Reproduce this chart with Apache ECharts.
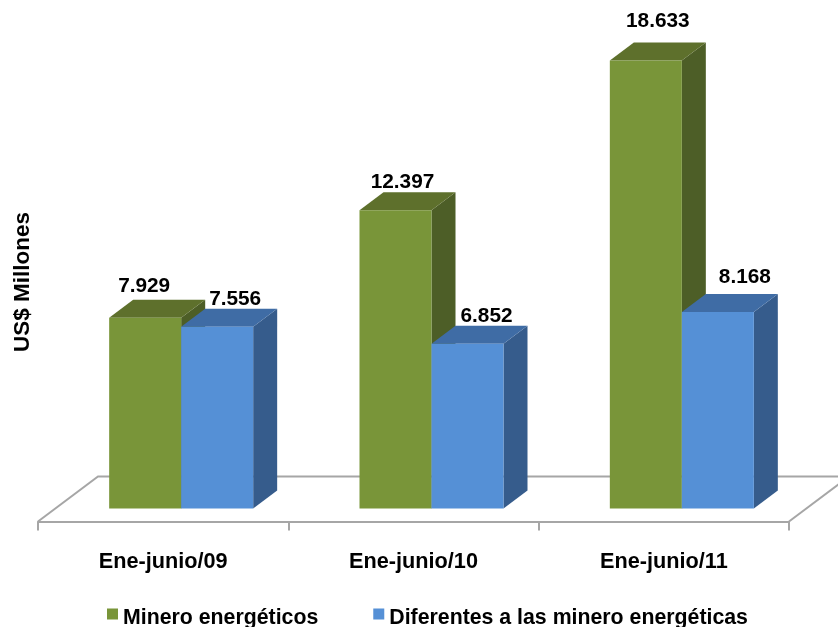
<!DOCTYPE html>
<html><head><meta charset="utf-8">
<style>html,body{margin:0;padding:0;background:#fff}#c{width:838px;height:627px}</style>
<script src="https://cdn.jsdelivr.net/npm/echarts@6/dist/echarts.min.js"></script>
</head><body><div id="c"></div>
<script>
const categories = ['Ene-junio/09', 'Ene-junio/10', 'Ene-junio/11'];
const mineroEnergeticos = [7929, 12397, 18633];
const diferentes = [7556, 6852, 8168];
const seriesNames = ['Minero energéticos', 'Diferentes a las minero energéticas'];
const yTitle = 'US$ Millones';

// drawing constants (not data)
const FONT = '"Liberation Sans", Arial, sans-serif';
const BAR_W = 72, DX = 24, DY = 18, SHIFT = 18;
const greenStyle = { front: '#799539', top: '#5e702c', side: '#4d5e27' };
const blueStyle = { front: '#5590d6', top: '#3f6ca5', side: '#365c8c' };
const greenNudge = [[-1, -32], [7, -28], [12, -39]];
const blueNudge = [[18, -28], [19, -27], [27, -35]];
const fmt = v => String(v).replace(/\B(?=(\d{3})+$)/, '.');

function barRenderer(side, colors, nudge) {
  return function (params, api) {
    const i = api.value(0), v = api.value(1);
    const top = api.coord([i, v]), base = api.coord([i, 0]);
    const x0 = top[0] + SHIFT + (side === 0 ? -BAR_W : 0), x1 = x0 + BAR_W;
    const y0 = top[1], y1 = base[1];
    return {
      type: 'group',
      children: [
        { type: 'polygon', shape: { points: [[x1, y0], [x1 + DX, y0 - DY], [x1 + DX, y1 - DY], [x1, y1]] }, style: { fill: colors.side } },
        { type: 'polygon', shape: { points: [[x0, y0], [x0 + DX, y0 - DY], [x1 + DX, y0 - DY], [x1, y0]] }, style: { fill: colors.top } },
        { type: 'rect', shape: { x: x0, y: y0, width: BAR_W, height: y1 - y0 }, style: { fill: colors.front } },
        { type: 'text', x: (x0 + x1) / 2 + nudge[params.dataIndex][0], y: y0 + nudge[params.dataIndex][1],
          style: { text: fmt(v), font: 'bold 20.8px ' + FONT, fill: '#000', align: 'center', verticalAlign: 'middle' } }
      ]
    };
  };
}

function floorRenderer(params) {
  const g = params.coordSys;
  const fy = g.y + g.height + 13, by = fy - 45;
  const line = '#a6a6a6';
  return {
    type: 'group',
    children: [
      { type: 'polyline', shape: { points: [[g.x, fy], [g.x + 60, by], [838, by]] }, style: { stroke: line, lineWidth: 2, fill: 'none' } },
      { type: 'line', shape: { x1: g.x + g.width, y1: fy, x2: g.x + g.width + 60, y2: by }, style: { stroke: line, lineWidth: 2 } }
    ]
  };
}

const chart = echarts.init(document.getElementById('c'), null, { renderer: 'canvas' });
chart.setOption({
  animation: false,
  backgroundColor: '#fff',
  grid: { left: 38, right: 49, top: 27.5, bottom: 118.5 },
  xAxis: {
    type: 'category', data: categories, offset: 13,
    axisLine: { show: true, onZero: false, lineStyle: { color: '#a6a6a6', width: 2 } },
    axisTick: { show: true, length: 9, lineStyle: { color: '#a6a6a6', width: 2 } },
    axisLabel: { color: '#000', fontFamily: FONT, fontWeight: 'bold', fontSize: 21.7, margin: 30 }
  },
  yAxis: { type: 'value', min: 0, max: 20000, show: false },
  legend: {
    left: 107, top: 608, icon: 'path://M0 0H11V11H0Z M0 20L11 20Z', itemWidth: 11, itemHeight: 20, itemGap: 55, padding: 0,
    data: seriesNames,
    textStyle: { color: '#000', fontFamily: FONT, fontWeight: 'bold', fontSize: 21.3 }
  },
  graphic: [{
    type: 'text', x: 23, y: 282, rotation: Math.PI / 2,
    style: { text: yTitle, font: 'bold 22.5px ' + FONT, fill: '#000', align: 'center', verticalAlign: 'middle' }
  }],
  series: [
    { type: 'custom', silent: true, z: 1, renderItem: floorRenderer, data: [[0, 0]], encode: { x: 0, y: 1 } },
    { type: 'custom', z: 2, name: seriesNames[0], renderItem: barRenderer(0, greenStyle, greenNudge),
      itemStyle: { color: greenStyle.front }, encode: { x: 0, y: 1 },
      data: mineroEnergeticos.map((v, i) => [i, v]) },
    { type: 'custom', z: 3, name: seriesNames[1], renderItem: barRenderer(1, blueStyle, blueNudge),
      itemStyle: { color: blueStyle.front }, encode: { x: 0, y: 1 },
      data: diferentes.map((v, i) => [i, v]) }
  ]
});
</script></body></html>
